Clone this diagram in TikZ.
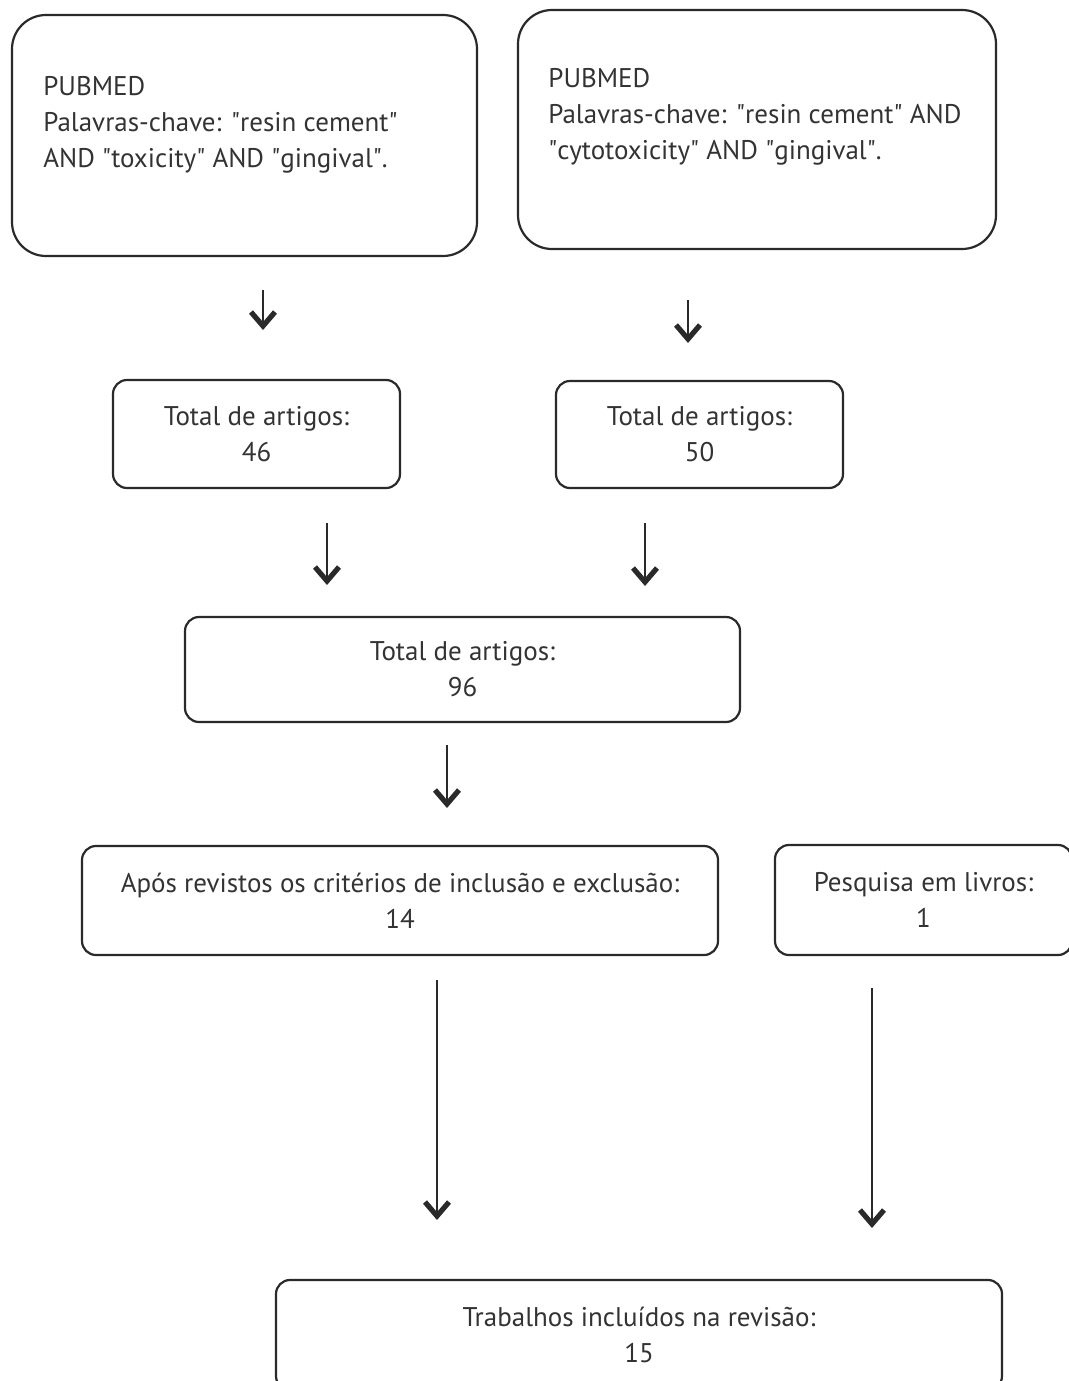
\documentclass[tikz,border=0pt]{standalone}
\usepackage{fontspec}
\setmainfont{PT Sans}
\usetikzlibrary{arrows.meta}
\definecolor{linec}{HTML}{2A2A2A}
\definecolor{txtc}{HTML}{333333}
\newcommand{\q}{\textquotedbl}
\begin{document}
\begin{tikzpicture}[x=0.5pt,y=-0.5pt,
  box/.style={draw=linec, line width=1.1pt, inner sep=0pt, text=txtc, align=center,
    font=\fontsize{13.5}{18}\selectfont},
  bigbox/.style={box, rounded corners=17pt},
  smallbox/.style={box, rounded corners=7pt},
  intext/.style={inner sep=0pt, text=txtc, align=left, anchor=north west,
    font=\fontsize{13.5}{18}\selectfont},
  arr/.style={draw=linec, line width=1.2pt,
    -{Straight Barb[length=7pt,width=12pt,line width=2.6pt]}}]
\useasboundingbox (0,0) rectangle (1069,1381);
\clip (0,0) rectangle (1069,1381);
% big top boxes
\node[bigbox, minimum width=232.5pt, minimum height=120.5pt] (A) at (244.5,135.5) {};
\node[intext] (At) at (43,76) {PUBMED\\Palavras-chave: \q resin cement\q\\AND \q toxicity\q\ AND \q gingival\q.};
\node[bigbox, minimum width=239pt, minimum height=119.5pt] (B) at (757,129.5) {};
\node[intext] (Bt) at (548,68) {PUBMED\\Palavras-chave: \q resin cement\q\ AND\\\q cytotoxicity\q\ AND \q gingival\q.};
% totals
\node[smallbox, minimum width=143.5pt, minimum height=54pt] (C) at (256.5,434) {Total de artigos:\\46};
\node[smallbox, minimum width=143.5pt, minimum height=53.5pt] (D) at (699.5,434.5) {Total de artigos:\\50};
\node[smallbox, minimum width=277.5pt, minimum height=52.5pt] (E) at (462.5,669.5) {Total de artigos:\\96};
\node[smallbox, minimum width=318pt, minimum height=54.5pt] (F) at (400,900.5) {Após revistos os critérios de inclusão e exclusão:\\14};
\node[smallbox, minimum width=148.5pt, minimum height=55pt] (G) at (923.5,900) {Pesquisa em livros:\\1};
\node[smallbox, minimum width=363pt, minimum height=55pt] (H) at (639,1335) {Trabalhos incluídos na revisão:\\15};
% arrow end points
\coordinate (a1s) at (263,290); \coordinate (a1e) at (263,330);
\coordinate (a2s) at (688,300); \coordinate (a2e) at (688,343);
\coordinate (a3s) at (327,523); \coordinate (a3e) at (327,585);
\coordinate (a4s) at (645,523); \coordinate (a4e) at (645,586);
\coordinate (a5s) at (447,745); \coordinate (a5e) at (447,808);
\coordinate (a6s) at (437,980); \coordinate (a6e) at (437,1220);
\coordinate (a7s) at (872,988); \coordinate (a7e) at (872,1228);
\draw[arr] (a1s) -- (a1e);
\draw[arr] (a2s) -- (a2e);
\draw[arr] (a3s) -- (a3e);
\draw[arr] (a4s) -- (a4e);
\draw[arr] (a5s) -- (a5e);
\draw[arr] (a6s) -- (a6e);
\draw[arr] (a7s) -- (a7e);
\end{tikzpicture}
\end{document}
